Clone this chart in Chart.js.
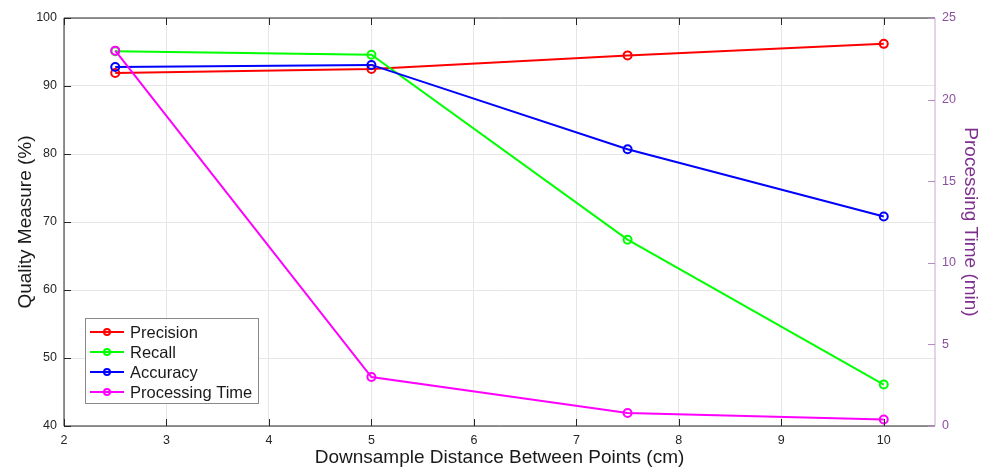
<!DOCTYPE html>
<html lang="en">
<head>
  <meta charset="UTF-8">
  <title>Quality Measure vs Downsample Distance</title>
  <script src="https://cdn.jsdelivr.net/npm/chart.js"></script>
  <style>
    body { margin: 0; background: #fff; }
    #wrap { width: 988px; height: 469px; }
  </style>
</head>
<body>
  <div id="wrap"><canvas id="chart"></canvas></div>
  <script>
    // downsample distance (cm)
    const distances = [2.5, 5, 7.5, 10];
    // quality measures (%)
    const precision = [91.9, 92.5, 94.5, 96.2];
    const recall = [95.1, 94.6, 67.4, 46.1];
    const accuracy = [92.8, 93.1, 80.7, 70.8];
    // processing time (min), right axis
    const procTime = [23.0, 3.0, 0.8, 0.4];

    const xTicks = [2, 3, 4, 5, 6, 7, 8, 9, 10];
    const leftTicks = [40, 50, 60, 70, 80, 90, 100];
    const rightTicks = [0, 5, 10, 15, 20, 25];

    const FONT = '"Liberation Sans", Arial, sans-serif';
    const PURPLE = '#7e2f8e';

    function toPoints(xs, ys) {
      return xs.map((x, i) => ({ x: x, y: ys[i] }));
    }

    function series(label, ys, color, axis, order) {
      return {
        label: label,
        data: toPoints(distances, ys),
        yAxisID: axis,
        borderColor: color,
        backgroundColor: color,
        borderWidth: 2,
        pointRadius: 4,
        pointBorderWidth: 2,
        pointBackgroundColor: 'rgba(255,255,255,0)',
        pointBorderColor: color,
        order: order
      };
    }

    // box around plot area (MATLAB style)
    const frame = {
      id: 'frame',
      afterDraw(chart) {
        const { ctx, chartArea: a } = chart;
        ctx.save();
        ctx.lineWidth = 1;
        ctx.strokeStyle = '#262626';
        ctx.beginPath();
        ctx.moveTo(a.left, a.top); ctx.lineTo(a.right, a.top);
        ctx.moveTo(a.left, a.top); ctx.lineTo(a.left, a.bottom);
        ctx.lineTo(a.right, a.bottom);
        ctx.stroke();
        ctx.strokeStyle = '#c9a8d0';
        ctx.beginPath();
        ctx.moveTo(a.right, a.top); ctx.lineTo(a.right, a.bottom);
        ctx.stroke();
        // inward ticks
        const xs = chart.scales.x, yl = chart.scales.y, yr = chart.scales.y2;
        ctx.strokeStyle = '#262626';
        ctx.beginPath();
        xTicks.forEach(v => {
          const px = Math.round(xs.getPixelForValue(v)) + 0.5;
          ctx.moveTo(px, a.bottom); ctx.lineTo(px, a.bottom - 7);
          ctx.moveTo(px, a.top); ctx.lineTo(px, a.top + 7);
        });
        leftTicks.forEach(v => {
          const py = Math.round(yl.getPixelForValue(v)) + 0.5;
          ctx.moveTo(a.left, py); ctx.lineTo(a.left + 7, py);
        });
        ctx.stroke();
        ctx.strokeStyle = '#b58cc0';
        ctx.beginPath();
        rightTicks.forEach(v => {
          const py = Math.round(yr.getPixelForValue(v)) + 0.5;
          ctx.moveTo(a.right, py); ctx.lineTo(a.right - 7, py);
        });
        ctx.stroke();
        ctx.restore();
      }
    };

    // legend box drawn inside plot area, lower left
    const boxLegend = {
      id: 'boxLegend',
      afterDraw(chart) {
        const ctx = chart.ctx;
        const x0 = 85, y0 = 318, w = 173, h = 85;
        ctx.save();
        ctx.fillStyle = '#fff';
        ctx.fillRect(x0, y0, w, h);
        ctx.strokeStyle = '#8a8a8a';
        ctx.lineWidth = 1;
        ctx.strokeRect(x0 + 0.5, y0 + 0.5, w, h);
        ctx.font = '16.5px ' + FONT;
        ctx.textBaseline = 'middle';
        chart.data.datasets.forEach((ds, i) => {
          const cy = y0 + 14 + i * 20;
          ctx.strokeStyle = ds.borderColor;
          ctx.lineWidth = 2;
          ctx.beginPath();
          ctx.moveTo(x0 + 5, cy); ctx.lineTo(x0 + 39, cy);
          ctx.stroke();
          ctx.beginPath();
          ctx.arc(x0 + 22, cy, 3, 0, Math.PI * 2);
          ctx.stroke();
          ctx.fillStyle = '#1a1a1a';
          ctx.fillText(ds.label, x0 + 45, cy + 1);
        });
        ctx.restore();
      }
    };

    new Chart(document.getElementById('chart'), {
      type: 'line',
      data: {
        datasets: [
          series('Precision', precision, '#ff0000', 'y', 4),
          series('Recall', recall, '#00ff00', 'y', 3),
          series('Accuracy', accuracy, '#0000ff', 'y', 2),
          series('Processing Time', procTime, '#ff00ff', 'y2', 1)
        ]
      },
      options: {
        responsive: true,
        maintainAspectRatio: false,
        animation: false,
        layout: { padding: { top: 18, right: 2, left: 14, bottom: 0 } },
        plugins: {
          legend: { display: false },
          tooltip: { enabled: false }
        },
        scales: {
          x: {
            type: 'linear',
            min: 2,
            max: 10.5,
            afterBuildTicks: s => { s.ticks = xTicks.map(v => ({ value: v })); },
            afterFit: s => { s.height = 43; },
            grid: { color: '#e6e6e6', drawTicks: false },
            border: { display: false },
            ticks: { color: '#262626', font: { family: FONT, size: 12.5 }, padding: 7 },
            title: {
              display: true,
              text: 'Downsample Distance Between Points (cm)',
              color: '#1a1a1a',
              font: { family: FONT, size: 19 },
              padding: { top: 1, bottom: 0 }
            }
          },
          y: {
            position: 'left',
            min: 40,
            max: 100,
            afterBuildTicks: s => { s.ticks = leftTicks.map(v => ({ value: v })); },
            afterFit: s => { s.width = 50; },
            grid: { color: '#e6e6e6', drawTicks: false },
            border: { display: false },
            ticks: { color: '#262626', font: { family: FONT, size: 12.5 }, padding: 7 },
            title: {
              display: true,
              text: 'Quality Measure (%)',
              color: '#1a1a1a',
              font: { family: FONT, size: 19 },
              padding: { top: 0, bottom: 4 }
            }
          },
          y2: {
            position: 'right',
            min: 0,
            max: 25,
            afterBuildTicks: s => { s.ticks = rightTicks.map(v => ({ value: v })); },
            afterFit: s => { s.width = 51; },
            grid: { drawOnChartArea: false, drawTicks: false },
            border: { display: false },
            ticks: { color: '#8b4f9e', font: { family: FONT, size: 12.5 }, padding: 7 },
            title: {
              display: true,
              text: 'Processing Time (min)',
              color: PURPLE,
              font: { family: FONT, size: 19 },
              padding: { top: 4, bottom: 0 }
            }
          }
        }
      },
      plugins: [frame, boxLegend]
    });
  </script>
</body>
</html>
